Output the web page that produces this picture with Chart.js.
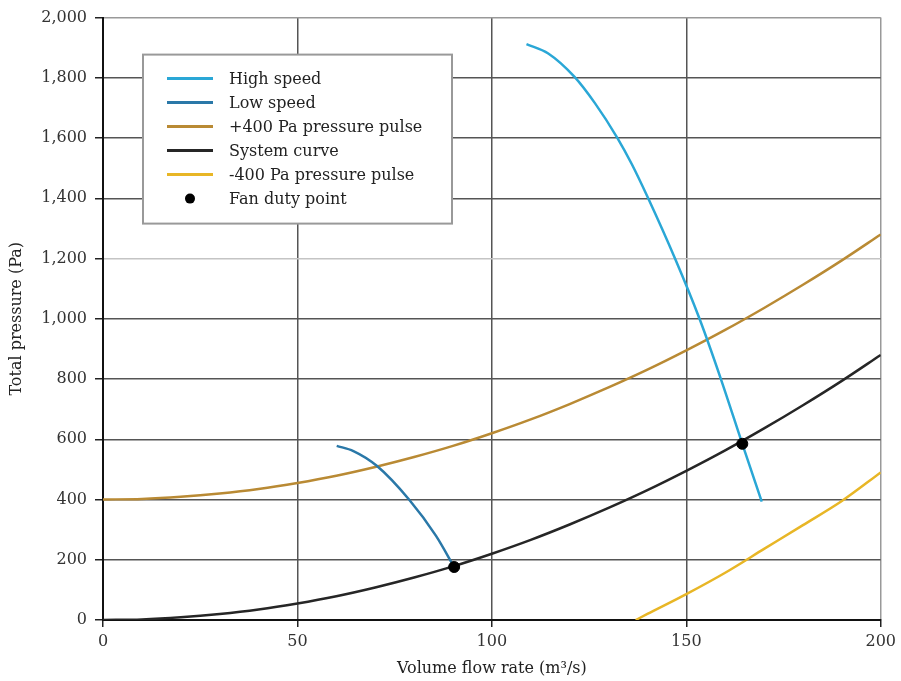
<!DOCTYPE html>
<html>
<head>
<meta charset="utf-8">
<script src="https://cdn.jsdelivr.net/npm/chart.js@4.4.1/dist/chart.umd.min.js"></script>
<style>
  html, body { margin: 0; padding: 0; background: #ffffff; }
  #wrap { width: 901px; height: 681px; position: relative; }
</style>
</head>
<body>
<div id="wrap"><canvas id="fanChart" width="901" height="681"></canvas></div>
<script>
// Flow rates (m³/s) and pressures (Pa) for each curve
const systemFlow = [0, 10, 20, 30, 40, 50, 60, 70, 80, 90, 100, 110, 120, 130, 140, 150, 160, 170, 180, 190, 200];
const systemPa   = [0, 2, 9, 20, 35, 55, 79, 108, 141, 178, 220, 266, 317, 372, 431, 495, 563, 636, 713, 794, 880];
const pulseUpPa  = [400, 402, 409, 420, 435, 455, 479, 508, 541, 578, 620, 666, 717, 772, 831, 895, 963, 1036, 1113, 1194, 1280];

const pulseDownFlow = [137, 140, 150, 160, 170, 180, 190, 200];
const pulseDownPa   = [0, 20, 86, 157, 236, 315, 395, 490];

const highFlow = [108.9, 114.5, 121.2, 126.5, 132.3, 136.0, 140.2, 147.1, 153.4, 158.9, 164.4, 169.4];
const highPa   = [1912, 1881, 1804, 1716, 1600, 1513, 1400, 1200, 1000, 800, 585, 393];

const lowFlow = [60.1, 64.4, 70.4, 78.7, 85.6, 90.3];
const lowPa   = [578, 561, 512, 400, 280, 176];

const dutyFlow = [90.3, 164.4];
const dutyPa   = [176, 585];

const xTicks = [0, 50, 100, 150, 200];
const yTicks = [0, 200, 400, 600, 800, 1000, 1200, 1400, 1600, 1800, 2000];

const FONT = "'DejaVu Serif', 'Liberation Serif', serif";
const FONT_SIZE = 16;

function pairs(xs, ys) { return xs.map((x, i) => ({ x: x, y: ys[i] })); }

const series = [
  { label: 'High speed', data: pairs(highFlow, highPa), color: '#2aa7d6', kind: 'line' },
  { label: 'Low speed', data: pairs(lowFlow, lowPa), color: '#2a78a8', kind: 'line' },
  { label: '+400 Pa pressure pulse', data: pairs(systemFlow, pulseUpPa), color: '#b98a34', kind: 'line' },
  { label: 'System curve', data: pairs(systemFlow, systemPa), color: '#262626', kind: 'line' },
  { label: '-400 Pa pressure pulse', data: pairs(pulseDownFlow, pulseDownPa), color: '#e8b626', kind: 'line' },
  { label: 'Fan duty point', data: pairs(dutyFlow, dutyPa), color: '#000000', kind: 'point' }
];

const datasets = series.map((s) => s.kind === 'line' ? {
  label: s.label,
  data: s.data,
  showLine: true,
  borderColor: s.color,
  backgroundColor: s.color,
  borderWidth: 2.5,
  pointRadius: 0,
  cubicInterpolationMode: 'monotone',
  order: 2
} : {
  label: s.label,
  data: s.data,
  showLine: false,
  backgroundColor: s.color,
  borderColor: s.color,
  pointRadius: 5.5,
  pointHoverRadius: 5.5,
  order: 0
});

// Boxed legend drawn inside the plot area
const insetLegend = {
  id: 'insetLegend',
  afterDraw(chart) {
    const ctx = chart.ctx;
    const area = chart.chartArea;
    const bx = area.left + 40, by = area.top + 37, bw = 309, bh = 169;
    ctx.save();
    ctx.fillStyle = '#ffffff';
    ctx.fillRect(bx, by, bw, bh);
    ctx.strokeStyle = '#999999';
    ctx.lineWidth = 2;
    ctx.strokeRect(bx, by, bw, bh);
    ctx.font = FONT_SIZE + 'px ' + FONT;
    ctx.textBaseline = 'middle';
    ctx.textAlign = 'left';
    series.forEach((s, i) => {
      const y = by + 24 + i * 24;
      if (s.kind === 'line') {
        ctx.strokeStyle = s.color;
        ctx.lineWidth = 3;
        ctx.beginPath();
        ctx.moveTo(bx + 24, y);
        ctx.lineTo(bx + 70, y);
        ctx.stroke();
      } else {
        ctx.fillStyle = s.color;
        ctx.beginPath();
        ctx.arc(bx + 47, y, 5, 0, Math.PI * 2);
        ctx.fill();
      }
      ctx.fillStyle = '#222222';
      ctx.fillText(s.label, bx + 86, y + 1);
    });
    ctx.restore();
  }
};

new Chart(document.getElementById('fanChart'), {
  type: 'scatter',
  data: { datasets: datasets },
  plugins: [insetLegend],
  options: {
    responsive: false,
    animation: false,
    layout: { padding: { top: 14, right: 20, left: 0, bottom: 0 } },
    plugins: { legend: { display: false }, tooltip: { enabled: false } },
    scales: {
      x: {
        type: 'linear',
        min: 0, max: 200,
        afterBuildTicks: (s) => { s.ticks = xTicks.map(v => ({ value: v })); },
        afterFit: (s) => { s.height = 61; },
        ticks: {
          font: { family: FONT, size: FONT_SIZE },
          color: '#333333',
          padding: 5,
          maxRotation: 0
        },
        grid: {
          color: (c) => c.tick && c.tick.value === 200 ? '#999999' : '#555555',
          lineWidth: 1.5,
          tickLength: 7,
          tickColor: '#222222',
          tickWidth: 1.5
        },
        border: { color: '#111111', width: 2 },
        title: {
          display: true,
          text: 'Volume flow rate (m³/s)',
          font: { family: FONT, size: FONT_SIZE },
          color: '#222222',
          padding: { top: 0, bottom: 3 }
        }
      },
      y: {
        type: 'linear',
        min: 0, max: 2000,
        afterBuildTicks: (s) => { s.ticks = yTicks.map(v => ({ value: v })); },
        afterFit: (s) => { s.width = 103; },
        ticks: {
          font: { family: FONT, size: FONT_SIZE },
          color: '#333333',
          padding: 8,
          callback: (v) => v.toLocaleString('en-US')
        },
        grid: {
          color: (c) => {
            if (!c.tick) return '#555555';
            if (c.tick.value === 1200) return '#c4c4c4';
            if (c.tick.value === 2000) return '#999999';
            return '#555555';
          },
          lineWidth: 1.5,
          tickLength: 8,
          tickColor: '#222222',
          tickWidth: 1.5
        },
        border: { color: '#111111', width: 2 },
        title: {
          display: true,
          text: 'Total pressure (Pa)',
          font: { family: FONT, size: FONT_SIZE },
          color: '#222222',
          padding: { top: 7, bottom: 0 }
        }
      }
    }
  }
});
</script>
</body>
</html>
